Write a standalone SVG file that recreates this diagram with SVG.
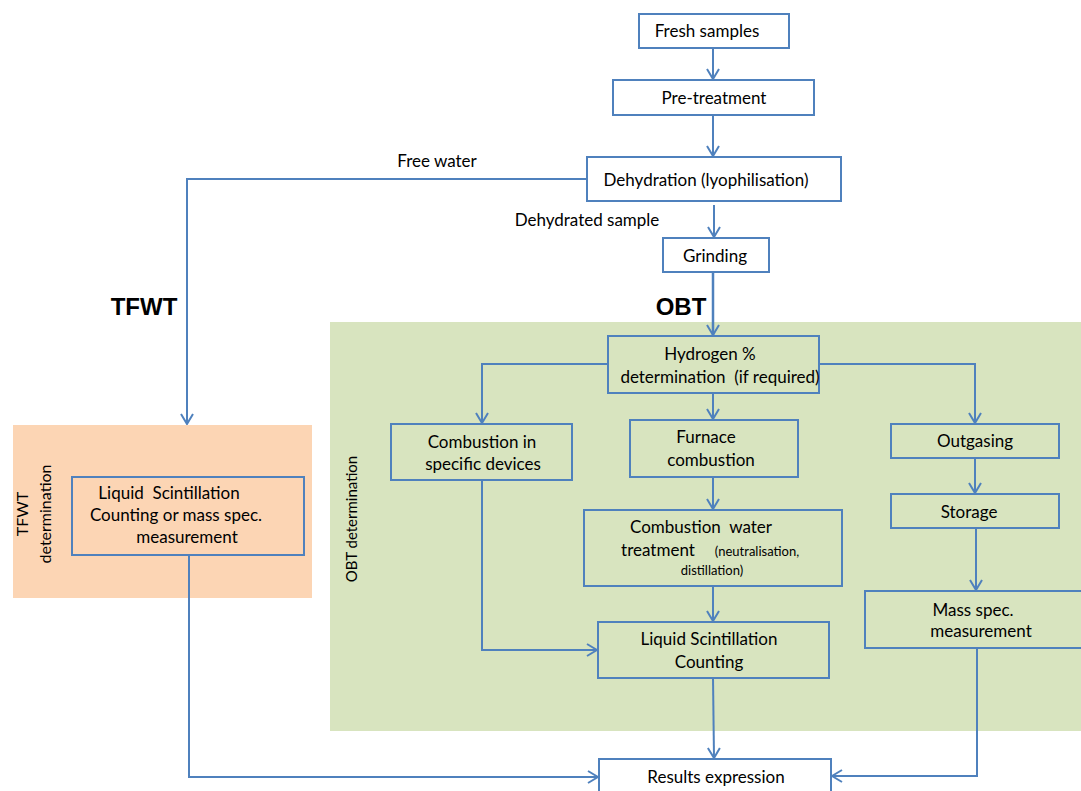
<svg xmlns="http://www.w3.org/2000/svg" width="1081" height="791" viewBox="0 0 1081 791">
<defs>
<marker id="arr" viewBox="0 0 12 14" refX="11" refY="7" markerWidth="12" markerHeight="14" markerUnits="userSpaceOnUse" orient="auto">
<path d="M1,1 L11,7 L1,13" fill="none" stroke="#4f81bd" stroke-width="2"/>
</marker>
<style>
.box{fill:#ffffff;stroke:#4f81bd;stroke-width:2}
.tbox{fill:none;stroke:#4f81bd;stroke-width:2}
.c{fill:none;stroke:#4f81bd;stroke-width:2;marker-end:url(#arr)}
text{font-family:Lato,"Liberation Sans",sans-serif;font-size:17px;fill:#000000;text-anchor:middle}
.s{font-size:13px}
.b{font-family:"Liberation Sans",Arial,sans-serif;font-weight:bold;font-size:24px}
.r{font-size:15px}
</style>
</defs>
<rect id="bg" x="0" y="0" width="1081" height="791" fill="#ffffff"/>
<g id="obt-area">
<rect x="330" y="322" width="751" height="409" fill="#d8e4bf"/>
<text class="r" transform="translate(357,519) rotate(-90)">OBT determination</text>
</g>
<g id="tfwt-area">
<rect x="13" y="425" width="299" height="173" fill="#fcd5b4"/>
<text class="r" transform="translate(28,514) rotate(-90)" style="font-size:16px">TFWT</text>
<text class="r" transform="translate(51,514) rotate(-90)" style="font-size:16px">determination</text>
</g>
<g id="connectors">
<line class="c" x1="713" y1="48" x2="713" y2="79"/>
<line class="c" x1="713" y1="115" x2="713" y2="156"/>
<line class="c" x1="714" y1="205" x2="714" y2="237"/>
<line class="c" x1="713" y1="272" x2="713" y2="335" style="stroke-width:2.5"/>
<polyline class="c" points="587,179 187,179 187,424"/>
<polyline class="c" points="608,364 482,364 482,423"/>
<polyline class="c" points="819,364 975,364 975,423"/>
<line class="c" x1="713" y1="393" x2="713" y2="419"/>
<line class="c" x1="713" y1="477" x2="713" y2="509"/>
<line class="c" x1="975" y1="458" x2="975" y2="493"/>
<line class="c" x1="713" y1="586" x2="713" y2="621"/>
<polyline class="c" points="482,480 482,650 597,650"/>
<line class="c" x1="976" y1="528" x2="976" y2="590"/>
<line class="c" x1="713" y1="678" x2="714" y2="758"/>
<polyline class="c" points="977,648 977,776 832,776"/>
<polyline class="c" points="189,555 189,777 598,777"/>
</g>
<g id="labels">
<text x="437" y="167">Free water</text>
<text x="587" y="226">Dehydrated sample</text>
<text class="b" x="144" y="315">TFWT</text>
<text class="b" x="681" y="315">OBT</text>
</g>
<g id="fresh">
<rect class="box" x="639" y="14" width="150" height="34"/>
<text x="707" y="37">Fresh samples</text>
</g>
<g id="pretreatment">
<rect class="box" x="613" y="80" width="201" height="35"/>
<text x="714" y="104">Pre-treatment</text>
</g>
<g id="dehydration">
<rect class="box" x="587" y="157" width="254" height="44"/>
<text x="706" y="186">Dehydration (lyophilisation)</text>
</g>
<g id="grinding">
<rect class="box" x="663" y="238" width="106" height="34"/>
<text x="715" y="262">Grinding</text>
</g>
<g id="hydrogen">
<rect class="tbox" x="608" y="336" width="211" height="57"/>
<text x="710" y="360">Hydrogen %</text>
<text x="720" y="383" xml:space="preserve">determination  (if required)</text>
</g>
<g id="combustion-devices">
<rect class="tbox" x="391" y="424" width="181" height="56"/>
<text x="482" y="448">Combustion in</text>
<text x="483" y="470">specific devices</text>
</g>
<g id="furnace">
<rect class="tbox" x="630" y="420" width="168" height="57"/>
<text x="706" y="443">Furnace</text>
<text x="711" y="466">combustion</text>
</g>
<g id="outgasing">
<rect class="tbox" x="891" y="424" width="168" height="34"/>
<text x="975" y="447">Outgasing</text>
</g>
<g id="storage">
<rect class="tbox" x="891" y="494" width="168" height="34"/>
<text x="969" y="518">Storage</text>
</g>
<g id="water-treatment">
<rect class="tbox" x="584" y="510" width="258" height="76"/>
<text x="701" y="533" xml:space="preserve">Combustion  water</text>
<text x="658" y="556">treatment</text>
<text class="s" x="757" y="556">(neutralisation,</text>
<text class="s" x="712" y="575">distillation)</text>
</g>
<g id="lsc">
<rect class="tbox" x="598" y="622" width="231" height="56"/>
<text x="709" y="645">Liquid Scintillation</text>
<text x="709" y="668">Counting</text>
</g>
<g id="massspec">
<rect class="tbox" x="865" y="591" width="220" height="57"/>
<text x="973" y="616">Mass spec.</text>
<text x="981" y="637">measurement</text>
</g>
<g id="tfwt-lsc">
<rect class="tbox" x="72" y="477" width="232" height="78"/>
<text x="169" y="499" xml:space="preserve">Liquid  Scintillation</text>
<text x="176" y="521">Counting or mass spec.</text>
<text x="187" y="543">measurement</text>
</g>
<g id="results">
<rect class="box" x="599" y="759" width="232" height="40"/>
<text x="716" y="783">Results expression</text>
</g>
</svg>
